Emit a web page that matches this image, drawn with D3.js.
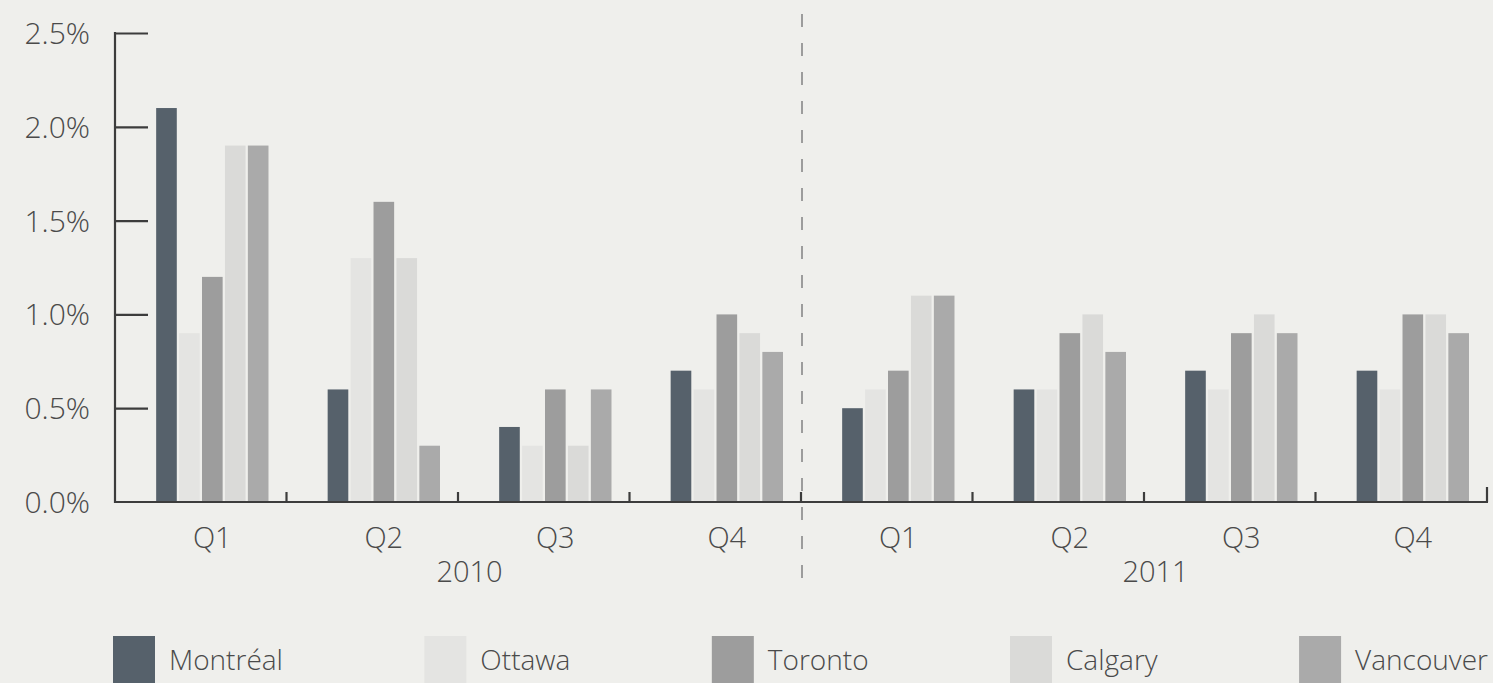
<!DOCTYPE html>
<html><head><meta charset="utf-8">
<script src="https://cdn.jsdelivr.net/npm/d3@7"></script>
<style>
html,body{margin:0;padding:0;background:#efefec;}
svg{display:block;}
text{font-family:"Open Sans","Lato",sans-serif;font-weight:300;fill:#4a4a4a;}
</style></head>
<body><svg id="c" width="1493" height="683"></svg>
<script>
const quarters = ["Q1","Q2","Q3","Q4","Q1","Q2","Q3","Q4"];
const years = ["2010","2011"];
const cities = ["Montréal","Ottawa","Toronto","Calgary","Vancouver"];
const colors = ["#56616b","#e4e4e2","#9d9d9d","#dadad8","#aaaaaa"];
const montreal  = [2.1,0.6,0.4,0.7,0.5,0.6,0.7,0.7];
const ottawa    = [0.9,1.3,0.3,0.6,0.6,0.6,0.6,0.6];
const toronto   = [1.2,1.6,0.6,1.0,0.7,0.9,0.9,1.0];
const calgary   = [1.9,1.3,0.3,0.9,1.1,1.0,1.0,1.0];
const vancouver = [1.9,0.3,0.6,0.8,1.1,0.8,0.9,0.9];
const yTicks = [0,0.5,1.0,1.5,2.0,2.5];
const series = [montreal,ottawa,toronto,calgary,vancouver];

const svg = d3.select("#c");
const x0 = d3.scaleBand().domain(d3.range(quarters.length)).range([115,1487]).padding(0);
const bw = x0.bandwidth();
const x1 = d3.scaleBand().domain(cities).range([bw*0.24, bw*0.895]).paddingInner(0.1);
const y = d3.scaleLinear().domain([0,2.5]).range([502,33]);
const clusterCenter = i => x0(i) + (bw*0.24 + bw*0.895)/2;

// dashed divider
svg.append("line").attr("x1",x0(4)+1).attr("x2",x0(4)+1).attr("y1",14).attr("y2",582)
  .attr("stroke","#9c9c9c").attr("stroke-width",2).attr("stroke-dasharray","13,16");

// bars
const g = svg.append("g");
quarters.forEach((q,i)=>{
  cities.forEach((c,j)=>{
    g.append("rect").attr("x",x0(i)+x1(c)).attr("width",x1.bandwidth())
      .attr("y",y(series[j][i])).attr("height",y(0)-y(series[j][i]))
      .attr("fill",colors[j]);
  });
});

// y axis
const ya = svg.append("g").attr("transform","translate(115,0)")
  .call(d3.axisRight(y).tickValues(yTicks.filter(d=>d>0)).tickSize(33).tickFormat(""));
ya.select(".domain").remove();
ya.selectAll(".tick line").attr("stroke","#3c3c3c").attr("stroke-width",2.2);
svg.append("line").attr("x1",115).attr("x2",115).attr("y1",y(2.5)-1).attr("y2",y(0)+1)
  .attr("stroke","#3c3c3c").attr("stroke-width",2.2);
svg.selectAll(".ylab").data(yTicks).enter().append("text").attr("class","ylab")
  .attr("x",90).attr("y",d=>y(d)+11).attr("text-anchor","end")
  .style("font-size","30px").text(d=>d.toFixed(1)+"%");

// x axis
svg.append("line").attr("x1",114).attr("x2",1488).attr("y1",y(0)).attr("y2",y(0))
  .attr("stroke","#3c3c3c").attr("stroke-width",2.2);
const bounds = d3.range(1,quarters.length+1).map(i=> i<quarters.length ? x0(i) : 1487);
svg.selectAll(".xt").data(bounds).enter().append("line")
  .attr("x1",d=>d).attr("x2",d=>d).attr("y1",y(0)).attr("y2",(d,i)=> i===bounds.length-1 ? y(0)-15 : y(0)-10)
  .attr("stroke","#3c3c3c").attr("stroke-width",2.2);
svg.selectAll(".qlab").data(quarters).enter().append("text")
  .attr("x",(d,i)=>clusterCenter(i)).attr("y",548).attr("text-anchor","middle")
  .style("font-size","29px").text(d=>d);
years.forEach((yr,k)=>{
  const cx = (clusterCenter(k*4+1)+clusterCenter(k*4+2))/2;
  svg.append("text").attr("x",cx).attr("y",582).attr("text-anchor","middle")
    .style("font-size","29px").text(yr);
});

// legend: spread items evenly between left and right edges
const lg = svg.append("g");
const sw = 42, tOff = 56, lLeft = 113, lRight = 1488;
const items = cities.map((c,j)=>{
  const it = lg.append("g");
  it.append("rect").attr("x",0).attr("y",636).attr("width",sw).attr("height",50).attr("fill",colors[j]);
  const t = it.append("text").attr("x",tOff).attr("y",670).style("font-size","28px").text(c);
  return {it, w: tOff + t.node().getComputedTextLength()};
});
const totalW = d3.sum(items, d=>d.w);
const gap = (lRight - lLeft - totalW) / (items.length - 1);
let lx = lLeft;
items.forEach(d=>{ d.it.attr("transform",`translate(${lx},0)`); lx += d.w + gap; });
</script></body></html>
